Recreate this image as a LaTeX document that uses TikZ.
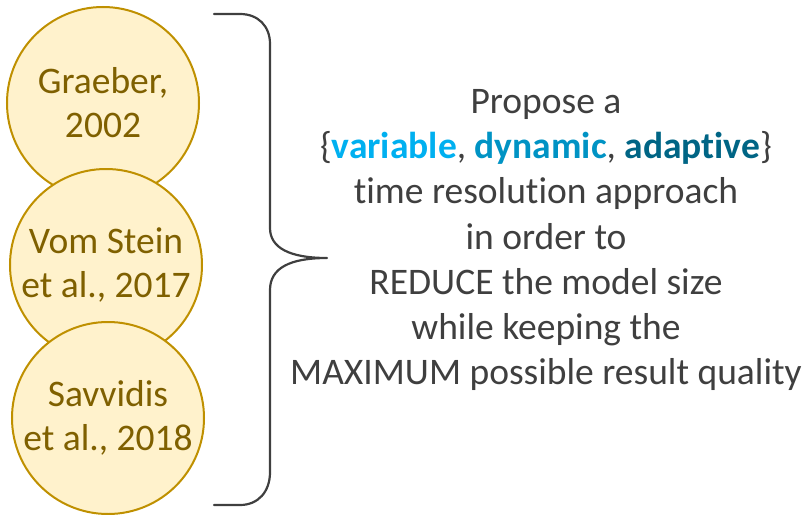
\documentclass[tikz,border=0pt]{standalone}
\usepackage{fontspec}
\setmainfont{Carlito}[RawFeature={-liga;-clig;-calt;-dlig}]
\definecolor{circfill}{HTML}{FFF2CC}
\definecolor{circline}{HTML}{BF9000}
\definecolor{circtext}{HTML}{7F6000}
\definecolor{bodytext}{HTML}{3F3F3F}
\definecolor{cvar}{HTML}{00B0F0}
\definecolor{cdyn}{HTML}{0093C4}
\definecolor{cada}{HTML}{006585}
\begin{document}
\begin{tikzpicture}[x=1pt,y=-1pt,
  refcircle/.style={circle,draw=circline,fill=circfill,line width=2pt,minimum size=192pt,inner sep=0pt,
    text=circtext,align=center,font=\fontsize{37.5}{44}\selectfont},
  bracestyle/.style={draw=bodytext,line width=2.2pt,line cap=round,line join=round},
  bodystyle/.style={text=bodytext,align=center,font=\fontsize{37.5}{45.2}\selectfont}]
\useasboundingbox (0,0) rectangle (803,514);
\node[refcircle] (c1) at (103,103) {Graeber,\\2002};
\node[refcircle] (c2) at (106,265) {Vom Stein\\et al., 2017};
\node[refcircle] (c3) at (108,418) {Savvidis\\et al., 2018};
\coordinate (tip) at (327,258);
\draw[bracestyle] (214,14) -- (240,14) .. controls (258,14) and (270,26) .. (270,44) -- (270,228)
  .. controls (270,248) and (290,258) .. (tip)
  .. controls (290,258) and (270,268) .. (270,290) -- (270,472)
  .. controls (270,492) and (258,505) .. (240,505) -- (214,505);
\node[bodystyle] (txt) at (546,240) {Propose a\\
\{\textbf{\textcolor{cvar}{variable}}, \textbf{\textcolor{cdyn}{dynamic}}, \textbf{\textcolor{cada}{adaptive}}\}\\
time resolution approach\\
in order to\\
REDUCE the model size\\
while keeping the\\
MAXIMUM possible result quality};
\end{tikzpicture}
\end{document}
